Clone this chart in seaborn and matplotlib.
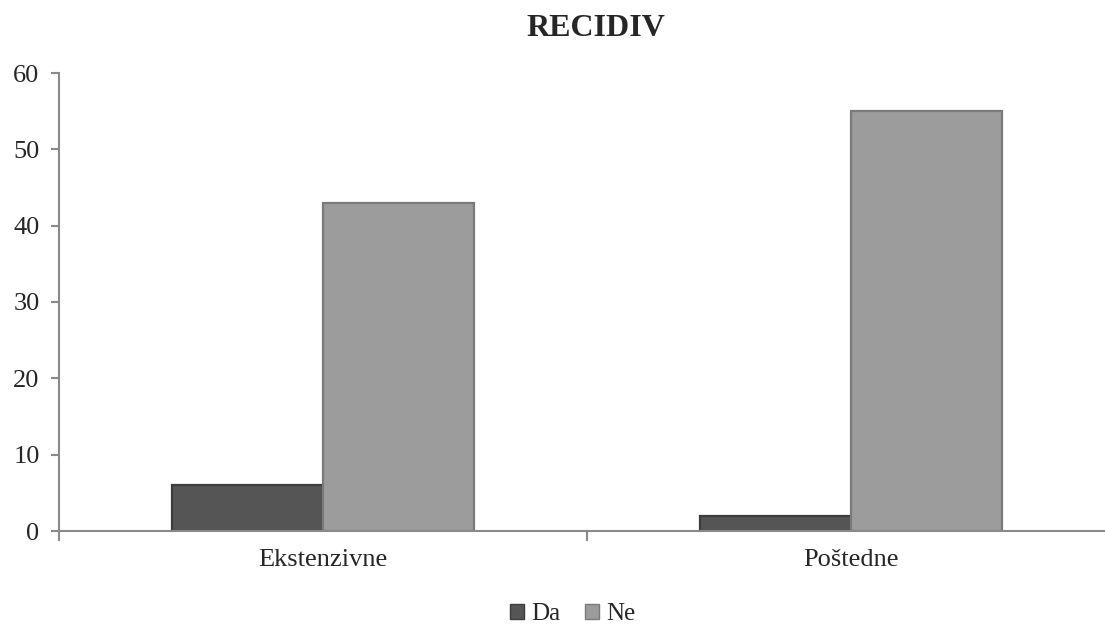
import pandas as pd
import seaborn as sns
from matplotlib import pyplot as plt
from matplotlib.patches import Patch
from matplotlib.ticker import FixedLocator

# data
categories = ["Ekstenzivne", "Poštedne"]
series = ["Da", "Ne"]
da_values = [6, 2]
ne_values = [43, 55]
colors = {"Da": "#555555", "Ne": "#9c9c9c"}
edges = {"Da": "#3c3c3c", "Ne": "#7a7a7a"}


def main():
    df = pd.DataFrame({
        "kategorija": categories * 2,
        "serija": ["Da"] * len(categories) + ["Ne"] * len(categories),
        "broj": da_values + ne_values,
    })

    sns.set_style("white")
    plt.rcParams['font.family'] = ['Liberation Serif', 'DejaVu Serif']

    fig = plt.figure(figsize=(11.05, 6.27), dpi=100)
    ax = fig.add_axes([59 / 1105, 1 - 531 / 627, (1115 - 59) / 1105, (531 - 73) / 627])

    sns.barplot(data=df, x="kategorija", y="broj", hue="serija",
                palette=colors, width=0.572, ax=ax, legend=False,
                saturation=1)

    # darker outline on each bar, like the bevel in the original
    for patch, s in zip(ax.patches, ["Da"] * len(categories) + ["Ne"] * len(categories)):
        patch.set_edgecolor(edges[s])
        patch.set_linewidth(1.6)

    ax.set_xlim(-0.5, 1.5)
    ax.set_ylim(0, 60)
    ax.set_yticks(range(0, 61, 10))
    ax.set_xlabel("")
    ax.set_ylabel("")

    # tick marks between categories, labels at the centres
    ax.xaxis.set_minor_locator(FixedLocator([-0.5, 0.5, 1.5]))
    ax.tick_params(axis="x", which="major", length=0, labelsize=19, pad=13)
    ax.tick_params(axis="x", which="minor", length=7, width=1.5, color="#8a8a8a",
                   direction="out", bottom=True)
    ax.tick_params(axis="y", length=6, width=1.5, color="#8a8a8a", direction="out",
                   left=True, labelsize=19, pad=8)

    for side in ["top", "right"]:
        ax.spines[side].set_visible(False)
    for side in ["left", "bottom"]:
        ax.spines[side].set_color("#8a8a8a")
        ax.spines[side].set_linewidth(1.5)

    fig.text(596 / 1105, 1 - 28 / 627, "RECIDIV", ha="center", va="center",
             fontsize=23, fontweight="bold")

    handles = [Patch(facecolor=colors[s], edgecolor=edges[s], label=s) for s in series]
    fig.legend(handles=handles, loc="center", bbox_to_anchor=(573 / 1105, 1 - 614 / 627),
               ncol=2, frameon=False, fontsize=18, handlelength=0.55, handleheight=0.55,
               handletextpad=0.3, columnspacing=1.0)

    fig.savefig("out.png", dpi=100)


if __name__ == "__main__":
    main()
